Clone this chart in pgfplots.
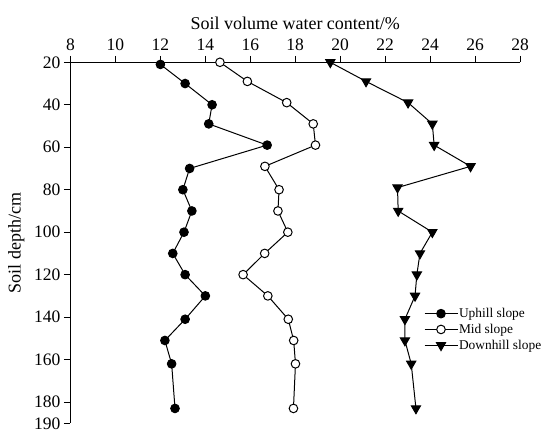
\documentclass[border=0pt]{standalone}
\usepackage{fontspec}
\setmainfont{Liberation Serif}
\usepackage{pgfplots}
\pgfplotsset{compat=1.18}
\begin{document}
\begin{tikzpicture}
\begin{axis}[
    width=449.5pt, height=361pt, scale only axis,
    xmin=8, xmax=28, ymin=20, ymax=190,
    y dir=reverse,
    axis x line=top, axis y line=left,
    axis line style={-, line width=1pt},
    xtick={8,10,...,28},
    ytick={20,40,60,80,100,120,140,160,180,190},
    tick align=outside,
    major tick length=6.5pt,
    tick style={line width=1pt, black},
    tick label style={font=\fontsize{17.5}{20}\selectfont},
    xticklabel style={yshift=2pt},
    label style={font=\fontsize{18}{21}\selectfont},
    xlabel style={yshift=2pt},
    ylabel style={yshift=3pt},
    /pgf/number format/assume math mode=true,
    xlabel={Soil volume water content/\%},
    ylabel={Soil depth/cm},
    legend style={draw=none, fill=none, font=\fontsize{13.4}{15}\selectfont,
        at={(axis description cs:0.786,0.322)}, anchor=north west,
        row sep=3pt, inner sep=0pt, nodes={inner sep=1pt}},
    legend cell align=left,
    legend image code/.code={\draw[mark repeat=2, mark phase=2] plot coordinates {(0pt,0pt) (16.5pt,0pt) (33pt,0pt)};},
]
\addplot[draw=black, line width=1pt, mark=*, mark size=4.3pt, mark options={solid, fill=black}] coordinates {
(12.0,21) (13.1,30) (14.3,40) (14.15,49) (16.75,59) (13.3,70) (13.0,80) (13.4,90)
(13.05,100) (12.55,110) (13.1,120) (14.0,130) (13.1,141) (12.2,151) (12.5,162) (12.65,183)};
\addlegendentry{Uphill slope}
\addplot[draw=black, line width=1pt, mark=*, mark size=4.3pt, mark options={solid, fill=white}] coordinates {
(14.65,20) (15.87,29) (17.62,39) (18.8,49) (18.9,59) (16.65,69) (17.28,80) (17.23,90)
(17.67,100) (16.64,110) (15.68,120) (16.78,130) (17.69,141) (17.93,151) (18.01,162) (17.92,183)};
\addlegendentry{Mid slope}
\addplot[draw=black, line width=1pt, mark=triangle*, mark size=5.3pt, mark options={solid, fill=black, rotate=180}] coordinates {
(19.56,20) (21.15,29) (23.02,39) (24.1,49) (24.18,59) (25.8,69) (22.55,79) (22.58,90)
(24.1,100) (23.55,110) (23.41,120) (23.33,130) (22.88,141) (22.88,151) (23.16,162) (23.37,183)};
\addlegendentry{Downhill slope}
\coordinate (o) at (axis description cs:0,0);
\end{axis}
\path (o) ++(-70.5pt,-11.7pt) rectangle ++(550pt,435pt);
\end{tikzpicture}
\end{document}
